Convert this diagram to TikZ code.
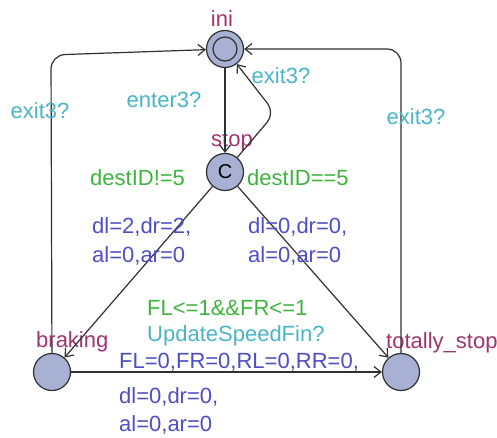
\documentclass[tikz,border=0pt]{standalone}
\usepackage{fontspec}
\setmainfont{Liberation Sans}
\usetikzlibrary{arrows.meta}
\definecolor{locfill}{HTML}{A8B0D4}
\definecolor{locname}{HTML}{A0346E}
\definecolor{guardc}{HTML}{3EB43E}
\definecolor{syncc}{HTML}{4AB4C8}
\definecolor{updc}{HTML}{4E4EC4}
\definecolor{linec}{HTML}{303030}
\begin{document}
\begin{tikzpicture}[x=1pt,y=-1pt,
  font=\fontsize{22}{26}\selectfont,
  loc/.style={circle,draw=linec,line width=1.2pt,fill=locfill,minimum size=37pt,inner sep=0pt},
  edge/.style={draw=linec,line width=1.2pt,-{Straight Barb[length=7pt,width=11pt]}},
  lname/.style={text=locname,inner sep=0pt},
  guard/.style={text=guardc,inner sep=0pt},
  sync/.style={text=syncc,inner sep=0pt},
  upd/.style={text=updc,inner sep=0pt}]
\useasboundingbox (0,0) rectangle (497,438);
% locations
\node[loc] (ini) at (225,49) {};
\node[circle,draw=linec,line width=1.2pt,minimum size=24pt,inner sep=0pt] (iniin) at (ini) {};
\node[loc] (stop) at (225,172) {\fontsize{20}{24}\selectfont C};
\node[loc] (brk) at (52,372) {};
\node[loc] (ts) at (401,372) {};
% names
\node[lname] (nini) at (222,19) {ini};
\node[lname] (nstop) at (232,142) {stop};
\node[lname,anchor=west] (nbrk) at (36,342) {braking};
\node[lname,anchor=west] (nts) at (386,343) {totally\_stop};
% edges
\draw[edge] (ini) -- (stop);
\draw[edge,rounded corners=12pt] (stop) -- (275,113) -- (ini);
\draw[edge,rounded corners=14pt] (brk) -- (51,55) -- (ini);
\draw[edge,rounded corners=14pt] (ts) -- (401,49) -- (ini);
\draw[edge] (stop) -- (brk);
\draw[edge] (stop) -- (ts);
\draw[edge] (brk) -- (ts);
% edge labels
\node[sync] (lenter) at (164,100) {enter3?};
\node[sync] (lex1) at (281,76) {exit3?};
\node[sync] (lex2) at (40,111) {exit3?};
\node[sync] (lex3) at (416,117) {exit3?};
\node[guard,anchor=west] (g1) at (90,178) {destID!=5};
\node[guard,anchor=west] (g2) at (247,178) {destID==5};
\node[upd,anchor=west] (u1a) at (92,227) {dl=2,dr=2,};
\node[upd,anchor=west] (u1b) at (92,256) {al=0,ar=0};
\node[upd,anchor=west] (u2a) at (248,227) {dl=0,dr=0,};
\node[upd,anchor=west] (u2b) at (248,256) {al=0,ar=0};
\node[guard,anchor=west] (g3) at (147,308) {FL<=1\&\&FR<=1};
\node[sync,anchor=west] (s3) at (147,336) {UpdateSpeedFin?};
\node[upd,anchor=west] (u3a) at (119,362) {FL=0,FR=0,RL=0,RR=0,};
\node[upd,anchor=west] (u3b) at (119,397) {dl=0,dr=0,};
\node[upd,anchor=west] (u3c) at (119,425) {al=0,ar=0};
\end{tikzpicture}
\end{document}
